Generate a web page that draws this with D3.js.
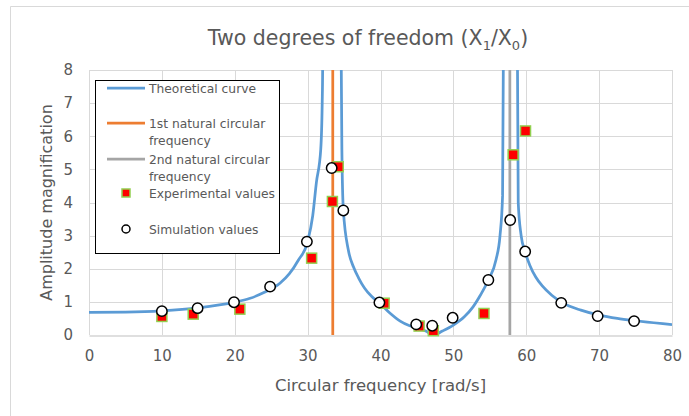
<!DOCTYPE html>
<html>
<head>
<meta charset="utf-8">
<script src="https://cdn.jsdelivr.net/npm/d3@7"></script>
<style>
  body { margin: 0; background: #fff; }
  text { font-family: "DejaVu Sans", Verdana, sans-serif; fill: #595959; }
</style>
</head>
<body>
<script>
// theoretical curve (omega, amplitude)
var curveW = [0, 5, 10, 15, 20, 22, 24, 26.2, 27.5, 28.7, 30, 30.7, 31.2, 31.8, 32.0, 32.06, 32.12,
              34.55, 34.62, 34.7, 34.9, 35.6, 36.3, 37.0, 37.8, 38.8, 39.8, 41.2, 42.7, 44, 45, 46.2, 47.3,
              48.5, 50, 51.5, 52.7, 53.7, 54.8, 55.85, 56.4, 56.75, 56.85, 56.9,
              58.75, 58.8, 58.9, 59.3, 59.83, 60.5, 61.3, 62.2, 63.5, 65, 67.5, 70, 72.5, 75, 77.5, 80];
var curveA = [0.68, 0.69, 0.73, 0.82, 0.99, 1.1, 1.28, 1.56, 1.85, 2.25, 2.82, 3.6, 4.6, 5.6, 7.0, 8.0, 12,
              12, 8.0, 5.6, 3.78, 2.55, 2.05, 1.72, 1.42, 1.16, 0.98, 0.68, 0.42, 0.28, 0.22, 0.12, 0.0,
              0.12, 0.3, 0.55, 0.85, 1.2, 1.66, 2.27, 3.0, 4.2, 8.0, 12,
              12, 8.0, 4.0, 3.0, 2.52, 2.1, 1.75, 1.48, 1.2, 0.97, 0.75, 0.6, 0.5, 0.43, 0.37, 0.31];

var natural1 = 33.45;
var natural2 = 57.75;

var expW = [10, 14.3, 20.7, 30.55, 33.4, 34.2, 40.5, 45.3, 47.25, 54.2, 58.2, 59.9];
var expA = [0.56, 0.63, 0.78, 2.32, 4.03, 5.08, 0.96, 0.27, 0.13, 0.65, 5.44, 6.16];

var simW = [10, 14.9, 19.9, 24.85, 29.9, 33.3, 34.9, 39.85, 44.9, 47.1, 49.9, 54.8, 57.8, 59.85, 64.8, 69.8, 74.8];
var simA = [0.72, 0.81, 0.99, 1.46, 2.82, 5.04, 3.76, 0.98, 0.32, 0.28, 0.52, 1.66, 3.47, 2.52, 0.97, 0.57, 0.42];

var xTicks = [0, 10, 20, 30, 40, 50, 60, 70, 80];
var yTicks = [0, 1, 2, 3, 4, 5, 6, 7, 8];

var width = 689, height = 416;
var margin = { left: 89, right: 17, top: 70, bottom: 81 };

var svg = d3.select("body").append("svg")
    .attr("width", width)
    .attr("height", height);

// chart area frame
svg.append("path")
    .attr("d", "M10.5," + height + "V6.5H" + width)
    .attr("fill", "none")
    .attr("stroke", "#d9d9d9");

var x = d3.scaleLinear().domain([0, 80]).range([margin.left, width - margin.right]);
var y = d3.scaleLinear().domain([0, 8]).range([height - margin.bottom, margin.top]);

// gridlines
svg.append("g").selectAll("line")
    .data(yTicks.slice(1))
    .enter().append("line")
    .attr("x1", x(0)).attr("x2", x(80))
    .attr("y1", (d) => Math.round(y(d)) + 0.5)
    .attr("y2", (d) => Math.round(y(d)) + 0.5)
    .attr("stroke", "#d9d9d9");

svg.append("g").selectAll("line")
    .data(xTicks)
    .enter().append("line")
    .attr("y1", y(0)).attr("y2", y(8))
    .attr("x1", (d) => Math.round(x(d)) + 0.5)
    .attr("x2", (d) => Math.round(x(d)) + 0.5)
    .attr("stroke", "#d9d9d9");

// x axis
var xAxis = svg.append("g")
    .attr("transform", "translate(0," + (Math.round(y(0)) + 0.5) + ")")
    .call(d3.axisBottom(x).tickValues(xTicks).tickSize(0).tickPadding(15));
xAxis.select(".domain").attr("stroke", "#bfbfbf");
xAxis.selectAll("text").attr("font-size", "15px").attr("fill", "#595959")
    .style("font-family", "DejaVu Sans, sans-serif");

// y axis
var yAxis = svg.append("g")
    .attr("transform", "translate(" + (margin.left - 1) + ",0)")
    .call(d3.axisLeft(y).tickValues(yTicks).tickSize(0).tickPadding(15));
yAxis.select(".domain").remove();
yAxis.selectAll("text").attr("font-size", "15px").attr("fill", "#595959")
    .style("font-family", "DejaVu Sans, sans-serif");

// titles
var title = svg.append("text")
    .attr("x", 368).attr("y", 45)
    .attr("text-anchor", "middle")
    .attr("font-size", "20.5px");
title.append("tspan").text("Two degrees of freedom (X");
title.append("tspan").attr("font-size", "13px").attr("dy", 5).text("1");
title.append("tspan").attr("dy", -5).text("/X");
title.append("tspan").attr("font-size", "13px").attr("dy", 5).text("0");
title.append("tspan").attr("dy", -5).text(")");

svg.append("text")
    .attr("x", x(40)).attr("y", 391)
    .attr("text-anchor", "middle")
    .attr("font-size", "16.5px")
    .text("Circular frequency [rad/s]");

svg.append("text")
    .attr("transform", "translate(52," + y(4) + ") rotate(-90)")
    .attr("text-anchor", "middle")
    .attr("font-size", "16px")
    .text("Amplitude magnification");

// clip to plot area
svg.append("clipPath").attr("id", "plot")
    .append("rect")
    .attr("x", x(0)).attr("y", y(8))
    .attr("width", x(80) - x(0)).attr("height", y(0) - y(8));

var plot = svg.append("g").attr("clip-path", "url(#plot)");

var curveData = curveW.map((w, i) => [w, curveA[i]]);
var line = d3.line()
    .x((d) => x(d[0]))
    .y((d) => y(d[1]))
    .curve(d3.curveMonotoneX);

plot.append("path")
    .datum(curveData)
    .attr("d", line)
    .attr("fill", "none")
    .attr("stroke", "#5b9bd5")
    .attr("stroke-width", 2.75);

// natural frequencies
plot.append("line")
    .attr("x1", x(natural1)).attr("x2", x(natural1))
    .attr("y1", y(0)).attr("y2", y(8))
    .attr("stroke", "#ed7d31").attr("stroke-width", 2.75);

plot.append("line")
    .attr("x1", x(natural2)).attr("x2", x(natural2))
    .attr("y1", y(0)).attr("y2", y(8))
    .attr("stroke", "#a5a5a5").attr("stroke-width", 2.75);

// experimental values
svg.append("g").selectAll("rect")
    .data(expW.map((w, i) => [w, expA[i]]))
    .enter().append("rect")
    .attr("x", (d) => x(d[0]) - 5)
    .attr("y", (d) => y(d[1]) - 5)
    .attr("width", 10).attr("height", 10)
    .attr("fill", "#ff0000")
    .attr("stroke", "#92d050")
    .attr("stroke-width", 1.5);

// simulation values
svg.append("g").selectAll("circle")
    .data(simW.map((w, i) => [w, simA[i]]))
    .enter().append("circle")
    .attr("cx", (d) => x(d[0]))
    .attr("cy", (d) => y(d[1]))
    .attr("r", 5.2)
    .attr("fill", "#fff")
    .attr("stroke", "#000")
    .attr("stroke-width", 1.5);

// legend
var legend = svg.append("g");
legend.append("rect")
    .attr("x", 95.5).attr("y", 80.5)
    .attr("width", 184).attr("height", 173)
    .attr("fill", "#fff")
    .attr("stroke", "#000");

var legItems = [
    { type: "line", color: "#5b9bd5", y: 88, lines: ["Theoretical curve"] },
    { type: "line", color: "#ed7d31", y: 123, lines: ["1st natural circular", "frequency"] },
    { type: "line", color: "#a5a5a5", y: 159, lines: ["2nd natural circular", "frequency"] },
    { type: "square", y: 193, lines: ["Experimental values"] },
    { type: "circle", y: 229, lines: ["Simulation values"] }
];

legItems.forEach((it) => {
    if (it.type == "line") {
        legend.append("line")
            .attr("x1", 107).attr("x2", 145)
            .attr("y1", it.y).attr("y2", it.y)
            .attr("stroke", it.color).attr("stroke-width", 2.75);
    } else if (it.type == "square") {
        legend.append("rect")
            .attr("x", 122).attr("y", it.y - 4)
            .attr("width", 8).attr("height", 8)
            .attr("fill", "#ff0000").attr("stroke", "#92d050").attr("stroke-width", 1.5);
    } else {
        legend.append("circle")
            .attr("cx", 126).attr("cy", it.y).attr("r", 4)
            .attr("fill", "#fff").attr("stroke", "#000").attr("stroke-width", 1.5);
    }
    it.lines.forEach((t, j) => {
        legend.append("text")
            .attr("x", 149).attr("y", it.y + 4.5 + j * 17)
            .attr("font-size", "12.3px")
            .text(t);
    });
});
</script>
</body>
</html>
